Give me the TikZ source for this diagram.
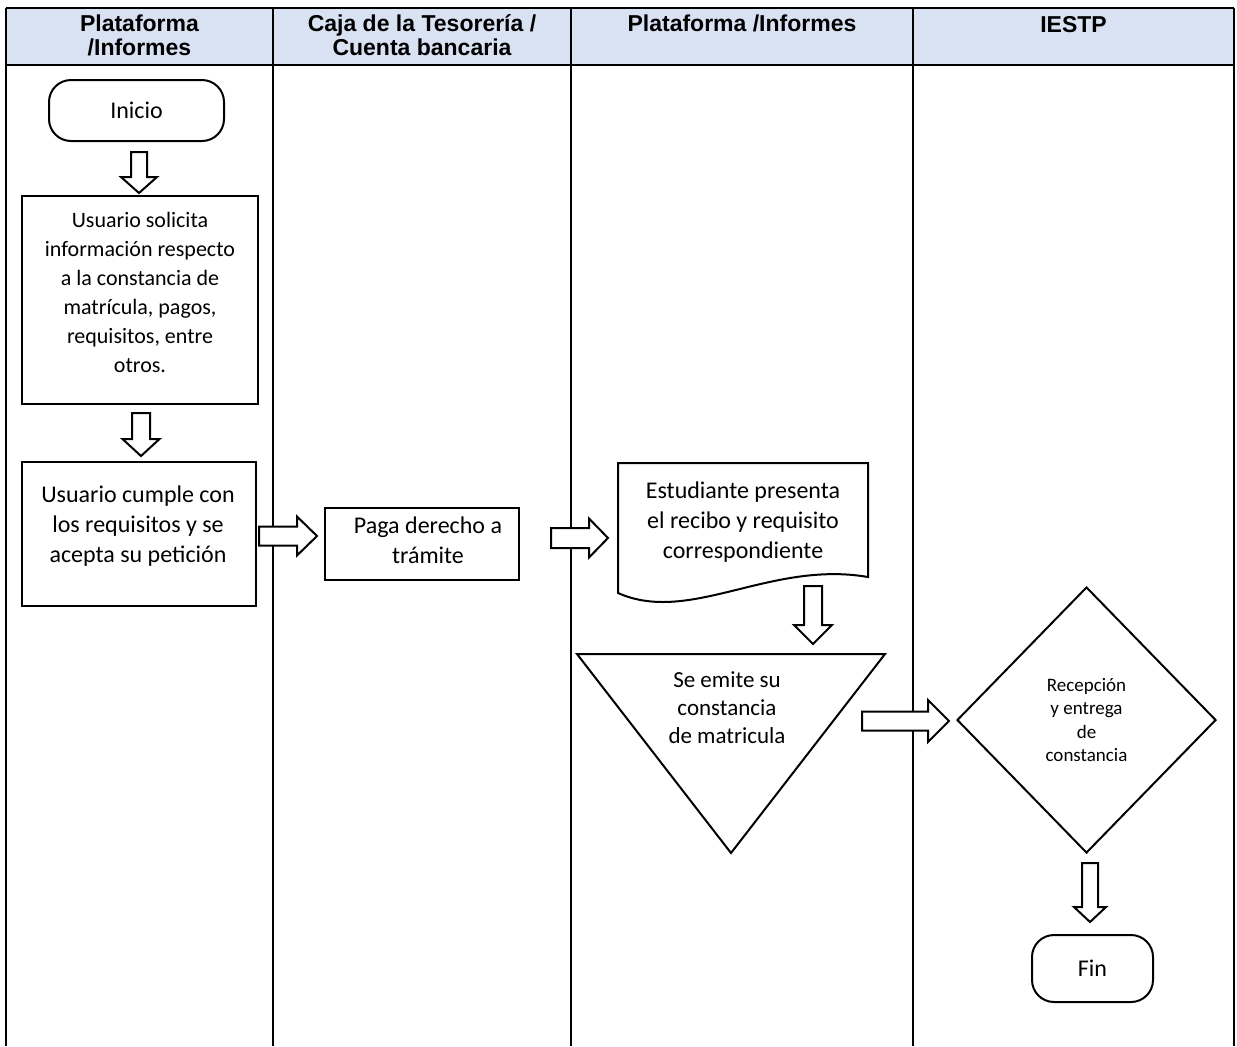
\documentclass[tikz,border=0pt]{standalone}
\usepackage{fontspec}
\setmainfont{Carlito}
\newfontfamily\headfont{Liberation Sans}
\usetikzlibrary{shapes.geometric}
\definecolor{hdrblue}{HTML}{D9E2F3}

% hollow block arrows: down {x}{top}{head start}{tip}{shaft half}{head half}
\newcommand{\BlkDown}[6]{%
  \draw[blk] (#1-#5,#2) -- (#1+#5,#2) -- (#1+#5,#3) -- (#1+#6,#3) -- (#1,#4)
    -- (#1-#6,#3) -- (#1-#5,#3) -- cycle;}
% right {y}{left}{head start}{tip}{shaft half}{head half}
\newcommand{\BlkRight}[6]{%
  \draw[blk] (#2,#1-#5) -- (#3,#1-#5) -- (#3,#1-#6) -- (#4,#1) -- (#3,#1+#6)
    -- (#3,#1+#5) -- (#2,#1+#5) -- cycle;}

\begin{document}
\begin{tikzpicture}[x=0.5pt,y=-0.5pt,
  lane/.style={line width=1.1pt},
  shp/.style={draw=black,line width=1pt,fill=white,inner sep=0pt},
  blk/.style={draw=black,line width=1pt,fill=white,line join=miter},
  hdr/.style={font=\headfont\bfseries\fontsize{11.5}{12}\selectfont,align=center,inner sep=0pt},
  txt/.style={align=center,inner sep=0pt},
  big/.style={font=\fontsize{12}{15}\selectfont},
]
\useasboundingbox (0,0) rectangle (1237,1046);

% swimlane table
\fill[hdrblue] (6,8) rectangle (1234,65);
\draw[lane] (6,8) -- (1234,8);
\draw[lane] (6,65) -- (1234,65);
\foreach \x in {6,273,571,913,1234} \draw[lane] (\x,8) -- (\x,1046);

\node[hdr] (h1) at (139.5,35.5) {Plataforma\\/Informes};
\node[hdr] (h2) at (422,35.5) {Caja de la Tesorería /\\Cuenta bancaria};
\node[hdr] (h3) at (742,23) {Plataforma /Informes};
\node[hdr] (h4) at (1073.5,25) {IESTP};

% lane 1
\node[shp,rounded corners=11pt,minimum width=87.5pt,minimum height=30.5pt,big] (inicio) at (136.5,110.5) {Inicio};
\BlkDown{139}{152}{177}{193}{8}{18}
\node[shp,minimum width=118pt,minimum height=104pt] (solic) at (140,300) {};
\node[txt,font=\fontsize{11}{14.5}\selectfont] (solict) at (140,292) {Usuario solicita\\información respecto\\a la constancia de\\matrícula, pagos,\\requisitos, entre\\otros.};
\BlkDown{141}{413}{439}{456}{9}{18.5}
\node[shp,minimum width=117pt,minimum height=72pt] (cumple) at (139,534) {};
\node[txt,big] (cumplet) at (138,526) {Usuario cumple con\\los requisitos y se\\acepta su petición};

% lane 2
\BlkRight{536}{259}{297}{317}{9.5}{19.5}
\node[shp,minimum width=97pt,minimum height=36pt] (paga) at (422,544) {};
\node[txt,big] (pagat) at (428,540) {Paga derecho a\\trámite};

% lane 3
\BlkRight{538}{551}{589}{608}{10}{19.5}
\draw[shp] (618,463) -- (868,463) -- (868,577)
  .. controls (770,560) and (690,625) .. (618,593) -- cycle;
\node[txt,big] (recibo) at (743,522) {Estudiante presenta\\el recibo y requisito\\correspondiente};
\BlkDown{813}{586}{625}{644}{9}{19}
\draw[shp] (577,654) -- (885,654) -- (731,853) -- cycle;
\node[txt,font=\fontsize{11.5}{14}\selectfont] (emite) at (727,708) {Se emite su\\constancia\\de matricula};

% lane 4
\BlkRight{721}{862}{928}{949}{9.5}{21}
\node[shp,diamond,minimum width=129.5pt,minimum height=133pt,align=center,font=\fontsize{9.5}{11.8}\selectfont] (recep) at (1086.5,720) {Recepción\\y entrega\\de\\constancia};
\BlkDown{1090}{863}{907}{922}{8}{16}
\node[shp,rounded corners=11pt,minimum width=60.5pt,minimum height=33.5pt,big] (fin) at (1092.5,968.5) {Fin};
\end{tikzpicture}
\end{document}
